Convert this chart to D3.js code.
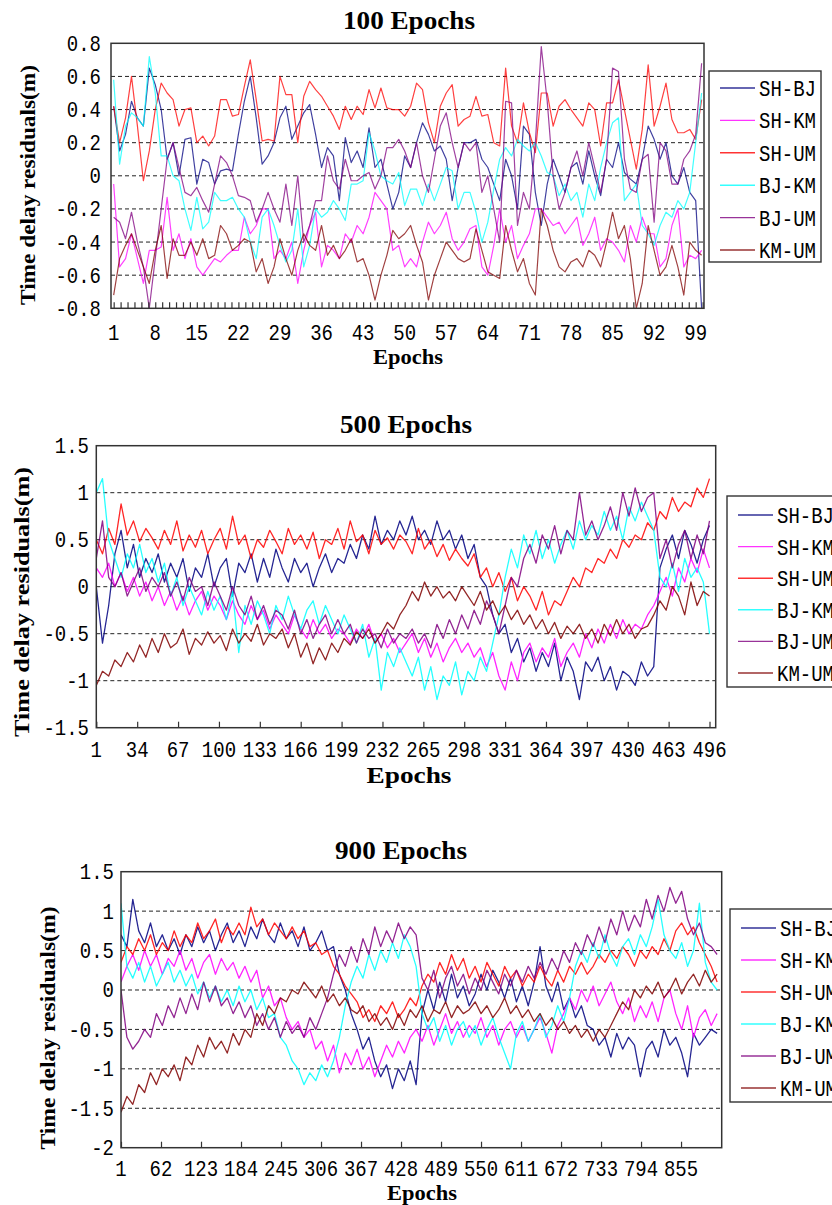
<!DOCTYPE html>
<html>
<head>
<meta charset="utf-8">
<script src="https://cdn.jsdelivr.net/npm/d3@7"></script>
<style>
body { margin: 0; background: #fff; }
</style>
</head>
<body>
<script>
var seriesNames = ["SH-BJ", "SH-KM", "SH-UM", "BJ-KM", "BJ-UM", "KM-UM"];
var seriesColors = ["#000080", "#ff00ff", "#ff0000", "#00ffff", "#800080", "#800000"];

// ---- 100 epochs ----
var epochs100 = d3.range(1, 101);
var shbj100 = [0.42,0.15,0.25,0.45,0.35,0.3,0.65,0.55,0.4,0.1,
	0.2,0.0,0.22,0.23,-0.05,0.1,0.08,-0.05,0.03,0.04,
	0.03,0.25,0.45,0.6,0.35,0.07,0.12,0.2,0.35,0.42,
	0.22,0.3,0.38,0.43,0.25,0.05,0.17,0.12,-0.15,0.23,
	0.08,0.15,0.05,0.29,0.05,0.1,-0.05,-0.2,-0.1,0.12,
	0.05,0.2,0.32,0.25,0.15,0.18,0.1,-0.15,0.05,0.2,
	0.2,0.22,0.1,0.05,-0.05,-0.15,0.1,0.0,-0.2,0.3,
	0.25,-0.1,-0.3,-0.05,0.1,0.0,-0.1,0.05,0.08,-0.05,
	0.15,0.0,-0.12,0.1,0.05,0.2,0.02,-0.02,-0.05,0.1,
	0.3,0.22,0.1,0.2,0.0,-0.05,0.05,-0.1,-0.15,-0.8];
var shkm100 = [-0.05,-0.55,-0.5,-0.35,-0.5,-0.65,-0.45,-0.45,-0.43,-0.13,
	-0.45,-0.35,-0.5,-0.38,-0.55,-0.6,-0.55,-0.5,-0.52,-0.48,
	-0.45,-0.45,-0.25,-0.35,-0.3,-0.2,-0.2,-0.5,-0.45,-0.5,
	-0.4,-0.65,-0.45,-0.3,-0.22,-0.55,-0.42,-0.45,-0.5,-0.35,
	-0.4,-0.3,-0.35,-0.25,-0.1,-0.15,-0.2,-0.45,-0.42,-0.55,
	-0.5,-0.55,-0.4,-0.28,-0.35,-0.3,-0.22,-0.38,-0.45,-0.4,
	-0.32,-0.3,-0.55,-0.6,-0.42,-0.2,-0.4,-0.3,-0.5,-0.42,
	-0.35,-0.2,-0.2,-0.25,-0.3,-0.28,-0.35,-0.3,-0.25,-0.42,
	-0.35,-0.25,-0.45,-0.38,-0.4,-0.45,-0.52,-0.3,-0.4,-0.25,
	-0.35,-0.35,-0.55,-0.5,-0.3,-0.2,-0.55,-0.48,-0.5,-0.45];
var shum100 = [0.42,0.2,0.35,0.6,0.3,-0.03,0.15,0.4,0.56,0.5,
	0.46,0.3,0.4,0.41,0.2,0.24,0.18,0.24,0.46,0.46,
	0.36,0.37,0.54,0.7,0.46,0.21,0.22,0.21,0.6,0.49,
	0.49,0.2,0.48,0.57,0.52,0.48,0.42,0.36,0.28,0.42,
	0.34,0.42,0.37,0.52,0.41,0.53,0.41,0.4,0.4,0.36,
	0.42,0.56,0.52,0.32,0.2,0.42,0.5,0.55,0.3,0.34,
	0.36,0.48,0.36,0.37,0.2,0.18,0.65,0.3,0.2,0.44,
	0.26,0.14,0.5,0.5,0.3,0.42,0.46,0.4,0.35,0.3,
	0.44,0.4,0.18,0.44,0.44,0.58,0.4,0.22,0.04,0.28,
	0.67,0.3,0.42,0.56,0.34,0.26,0.26,0.28,0.22,0.46];
var bjkm100 = [0.58,0.07,0.3,0.38,0.35,0.3,0.72,0.5,0.12,0.12,
	0.0,-0.03,-0.2,-0.33,-0.13,-0.32,-0.28,-0.1,-0.15,-0.15,
	-0.13,-0.2,-0.25,-0.4,-0.5,-0.25,-0.2,-0.3,-0.42,-0.52,
	-0.45,-0.2,-0.55,-0.42,-0.2,-0.25,-0.22,-0.15,-0.2,-0.27,
	-0.05,-0.05,-0.03,0.26,0.15,0.0,-0.03,-0.05,0.02,-0.18,
	-0.08,-0.08,-0.18,-0.05,-0.15,-0.05,0.05,0.03,-0.2,-0.1,
	-0.1,-0.22,-0.4,-0.28,-0.08,0.1,0.17,0.12,0.22,0.18,
	0.15,0.2,0.12,0.02,0.0,-0.12,-0.05,-0.15,-0.1,-0.25,
	-0.05,-0.15,0.05,0.2,0.32,0.35,-0.15,-0.1,-0.05,-0.3,
	-0.35,-0.42,-0.3,-0.22,-0.25,-0.15,-0.2,-0.1,0.2,0.5];
var bjum100 = [-0.25,-0.28,-0.38,-0.22,-0.4,-0.55,-0.8,-0.5,-0.2,0.1,
	0.2,0.05,-0.1,-0.12,-0.07,-0.15,-0.22,-0.05,0.12,0.08,
	0.0,-0.12,-0.13,-0.15,-0.28,-0.2,-0.1,-0.2,-0.28,-0.05,
	-0.3,0.0,-0.4,-0.3,-0.15,-0.15,0.12,-0.03,-0.08,0.1,
	-0.03,-0.03,0.0,0.02,-0.08,0.0,0.17,0.17,0.22,0.15,
	0.05,0.2,0.0,-0.1,0.1,0.3,0.38,0.2,0.05,0.2,
	0.15,0.2,-0.1,0.0,-0.2,-0.4,0.45,0.44,-0.3,-0.1,
	-0.2,0.2,0.78,0.45,0.0,-0.2,-0.1,0.05,0.15,0.0,
	0.2,0.05,-0.1,0.1,0.65,0.63,0.1,-0.08,-0.1,0.1,
	0.13,-0.28,0.2,0.15,-0.05,-0.05,0.1,0.15,0.25,0.68];
var kmum100 = [-0.72,-0.5,-0.42,-0.35,-0.45,-0.55,-0.65,-0.45,-0.3,-0.62,
	-0.38,-0.48,-0.48,-0.4,-0.48,-0.38,-0.5,-0.48,-0.3,-0.35,
	-0.45,-0.42,-0.38,-0.4,-0.58,-0.5,-0.65,-0.55,-0.38,-0.5,
	-0.6,-0.45,-0.35,-0.42,-0.45,-0.3,-0.48,-0.42,-0.5,-0.45,
	-0.38,-0.52,-0.5,-0.6,-0.75,-0.6,-0.48,-0.33,-0.38,-0.35,
	-0.3,-0.42,-0.52,-0.75,-0.6,-0.5,-0.4,-0.45,-0.5,-0.52,
	-0.5,-0.32,-0.45,-0.58,-0.6,-0.62,-0.3,-0.45,-0.58,-0.5,
	-0.65,-0.72,-0.2,-0.3,-0.45,-0.55,-0.58,-0.52,-0.5,-0.55,
	-0.45,-0.48,-0.55,-0.4,-0.22,-0.38,-0.3,-0.5,-0.8,-0.65,
	-0.3,-0.45,-0.6,-0.55,-0.42,-0.55,-0.72,-0.4,-0.45,-0.48];
var xTicks100 = [1, 8, 15, 22, 29, 36, 43, 50, 57, 64, 71, 78, 85, 92, 99];
var yTicks100 = [0.8, 0.6, 0.4, 0.2, 0, -0.2, -0.4, -0.6, -0.8];
var yLabels100 = ["0.8", "0.6", "0.4", "0.2", "0", "-0.2", "-0.4", "-0.6", "-0.8"];

// ---- 500 epochs (read every 5th epoch) ----
var epochs500 = d3.range(1, 497, 5);
var shbj500 = [0.0,-0.6,-0.2,0.35,0.6,0.2,0.45,0.1,0.3,0.15,
	0.35,0.05,0.25,0.1,0.3,-0.05,0.2,0.1,0.35,0.0,
	0.2,0.3,-0.1,0.25,0.15,0.35,0.05,0.3,0.1,0.4,
	0.2,0.05,0.3,0.15,0.25,0.0,0.2,0.35,0.15,0.3,
	0.25,0.45,0.3,0.55,0.4,0.75,0.45,0.6,0.5,0.7,
	0.55,0.75,0.5,0.6,0.45,0.7,0.5,0.6,0.4,0.55,
	0.3,0.45,0.1,0.0,-0.3,-0.5,-0.4,-0.7,-0.55,-0.8,
	-0.65,-0.9,-0.7,-0.85,-0.6,-1.0,-0.75,-0.9,-1.2,-0.8,
	-0.9,-0.75,-1.0,-0.85,-1.1,-0.9,-0.95,-1.05,-0.8,-0.95,
	-0.85,0.2,0.4,0.55,0.3,0.6,0.45,0.25,0.5,0.65];
var shkm500 = [0.2,0.1,0.25,0.0,0.15,-0.05,0.1,-0.1,0.05,-0.15,
	0.0,-0.2,-0.05,-0.25,-0.1,-0.3,-0.15,-0.05,-0.25,-0.1,
	-0.2,-0.35,-0.15,-0.3,-0.4,-0.2,-0.35,-0.25,-0.45,-0.3,
	-0.4,-0.5,-0.3,-0.45,-0.55,-0.35,-0.5,-0.4,-0.55,-0.45,
	-0.5,-0.6,-0.45,-0.55,-0.4,-0.6,-0.5,-0.65,-0.55,-0.7,
	-0.6,-0.5,-0.7,-0.55,-0.75,-0.6,-0.8,-0.65,-0.55,-0.7,
	-0.6,-0.75,-0.65,-0.85,-0.7,-0.95,-1.1,-0.8,-1.0,-0.7,
	-0.6,-0.8,-0.65,-0.75,-0.55,-0.85,-0.7,-0.6,-0.75,-0.5,
	-0.65,-0.45,-0.6,-0.4,-0.55,-0.35,-0.5,-0.4,-0.45,-0.3,
	-0.2,-0.05,0.1,-0.1,0.2,0.05,0.3,0.15,0.4,0.2];
var shum500 = [0.5,0.35,0.62,0.45,0.88,0.55,0.7,0.48,0.62,0.52,
	0.4,0.6,0.45,0.7,0.38,0.55,0.42,0.6,0.35,0.5,
	0.62,0.4,0.75,0.45,0.55,0.3,0.5,0.42,0.6,0.48,
	0.35,0.62,0.45,0.55,0.4,0.58,0.3,0.5,0.45,0.62,
	0.4,0.7,0.48,0.55,0.35,0.6,0.45,0.52,0.4,0.55,
	0.48,0.35,0.62,0.4,0.5,0.32,0.45,0.28,0.4,0.3,
	0.22,0.35,0.1,0.2,0.0,0.15,-0.05,0.1,-0.15,0.0,
	-0.1,-0.25,-0.05,-0.3,-0.15,-0.2,-0.05,0.1,0.0,0.2,
	0.15,0.3,0.25,0.4,0.3,0.5,0.42,0.55,0.5,0.68,
	0.6,0.8,0.72,0.95,0.8,0.9,0.85,1.05,0.95,1.15];
var bjkm500 = [1.0,1.15,0.5,0.3,0.1,0.35,0.2,0.45,0.15,0.3,
	0.05,0.25,-0.1,0.1,-0.2,0.0,-0.15,-0.3,-0.05,-0.25,
	-0.1,-0.35,-0.05,-0.7,-0.2,-0.4,-0.15,-0.3,-0.5,-0.2,
	-0.35,-0.1,-0.3,-0.45,-0.25,-0.15,-0.4,-0.2,-0.35,-0.5,
	-0.3,-0.45,-0.6,-0.4,-0.75,-0.55,-1.1,-0.7,-0.85,-0.65,
	-0.8,-0.95,-0.75,-1.1,-0.85,-1.2,-0.95,-1.05,-0.8,-1.15,
	-0.9,-1.0,-0.75,-0.9,-0.6,-0.3,0.1,0.4,0.2,0.55,
	0.35,0.6,0.3,0.5,0.25,0.45,0.6,0.4,0.7,0.5,
	0.65,0.55,0.8,0.6,0.75,0.5,0.85,0.7,0.9,0.75,
	0.6,0.1,0.0,0.25,-0.05,0.3,0.1,0.2,0.05,-0.5];
var bjum500 = [0.3,0.7,0.1,0.0,0.15,-0.1,0.05,0.2,-0.05,0.1,
	0.0,0.15,-0.1,0.05,-0.15,0.1,-0.05,0.0,-0.2,0.05,
	-0.1,-0.25,0.0,-0.2,-0.3,-0.1,-0.35,-0.2,-0.4,-0.25,
	-0.3,-0.45,-0.25,-0.5,-0.35,-0.55,-0.4,-0.3,-0.5,-0.35,
	-0.5,-0.4,-0.6,-0.45,-0.55,-0.5,-0.65,-0.45,-0.6,-0.5,
	-0.55,-0.45,-0.6,-0.5,-0.65,-0.4,-0.55,-0.35,-0.5,-0.3,
	-0.45,-0.25,-0.4,-0.15,-0.3,-0.5,-0.2,0.1,0.0,0.3,
	0.45,0.25,0.55,0.4,0.65,0.35,0.6,0.5,1.0,0.55,
	0.7,0.5,0.65,0.85,0.6,1.0,0.75,1.05,0.8,0.95,
	1.0,0.3,0.5,0.2,0.45,0.6,0.3,0.55,0.35,0.7];
var kmum500 = [-1.05,-0.9,-0.95,-0.78,-0.85,-0.7,-0.8,-0.62,-0.75,-0.55,
	-0.7,-0.5,-0.65,-0.6,-0.45,-0.72,-0.55,-0.62,-0.48,-0.6,
	-0.52,-0.68,-0.45,-0.6,-0.5,-0.58,-0.4,-0.62,-0.5,-0.55,
	-0.45,-0.65,-0.5,-0.75,-0.6,-0.82,-0.65,-0.78,-0.6,-0.7,
	-0.55,-0.62,-0.48,-0.55,-0.45,-0.6,-0.5,-0.38,-0.45,-0.3,
	-0.2,-0.05,-0.15,0.05,-0.1,0.0,-0.12,-0.05,-0.15,0.0,
	-0.1,-0.2,-0.05,-0.25,-0.15,-0.3,-0.2,-0.35,-0.25,-0.4,
	-0.3,-0.45,-0.35,-0.5,-0.38,-0.55,-0.42,-0.5,-0.4,-0.55,
	-0.45,-0.6,-0.4,-0.52,-0.35,-0.5,-0.4,-0.55,-0.45,-0.42,
	-0.3,-0.15,-0.25,0.0,-0.1,-0.3,0.05,-0.2,-0.05,-0.1];
var xTicks500 = [1, 34, 67, 100, 133, 166, 199, 232, 265, 298, 331, 364, 397, 430, 463, 496];
var yTicks500 = [1.5, 1, 0.5, 0, -0.5, -1, -1.5];
var yLabels500 = ["1.5", "1", "0.5", "0", "-0.5", "-1", "-1.5"];

// ---- 900 epochs (read every 9th epoch) ----
var epochs900 = d3.range(1, 911, 9);
var shbj900 = [0.7,0.55,1.15,0.75,0.6,0.85,0.55,0.7,0.5,0.65,
	0.45,0.7,0.55,0.8,0.6,0.75,0.5,0.7,0.85,0.6,
	0.75,0.55,0.8,0.65,0.9,0.7,0.6,0.85,0.65,0.75,
	0.55,0.8,0.5,0.6,0.75,0.5,0.55,0.2,0.0,-0.3,
	-0.5,-0.75,-0.6,-0.9,-1.1,-0.95,-1.25,-1.0,-1.15,-0.9,
	-1.2,-0.3,0.0,-0.25,0.1,-0.15,0.2,-0.1,0.05,-0.2,
	-0.05,0.2,0.0,0.25,0.1,-0.1,0.15,-0.15,0.05,-0.2,
	0.1,0.55,0.05,-0.15,0.1,-0.25,-0.1,-0.35,-0.2,-0.45,
	-0.5,-0.7,-0.6,-0.85,-0.55,-0.75,-0.6,-0.7,-1.1,-0.75,
	-0.65,-0.85,-0.5,-0.7,-0.6,-0.8,-1.1,-0.55,-0.7,-0.6,
	-0.5,-0.55];
var shkm900 = [0.1,0.3,0.45,0.25,0.5,0.3,0.45,0.2,0.4,0.3,
	0.5,0.25,0.4,0.15,0.35,0.45,0.2,0.4,0.25,0.35,
	0.15,0.3,0.1,0.25,-0.1,0.05,-0.2,-0.1,-0.35,-0.5,
	-0.4,-0.6,-0.5,-0.75,-0.65,-0.9,-0.7,-1.05,-0.8,-0.95,
	-0.75,-1.0,-0.85,-1.1,-0.9,-0.7,-0.85,-0.65,-0.8,-0.6,
	-0.5,-0.65,-0.45,-0.7,-0.5,-0.3,-0.55,-0.4,-0.6,-0.45,
	-0.55,-0.35,-0.6,-0.45,-0.7,-0.5,-0.4,-0.6,-0.45,-0.65,
	-0.5,-0.35,-0.55,-0.8,-0.45,-0.3,-0.1,-0.25,0.0,-0.15,
	0.05,-0.2,-0.05,0.1,-0.15,-0.3,-0.1,-0.4,-0.2,-0.35,
	-0.15,-0.4,-0.1,0.0,-0.3,-0.5,-0.2,-0.6,-0.35,-0.25,
	-0.45,-0.3];
var shum900 = [0.35,0.55,0.45,0.65,0.5,0.7,0.45,0.6,0.5,0.75,
	0.55,0.7,0.6,0.85,0.65,0.75,0.9,0.6,0.8,0.7,
	0.85,0.7,1.05,0.8,0.9,0.7,0.85,0.75,0.65,0.8,
	0.65,0.75,0.55,0.6,0.45,0.5,0.3,0.2,0.05,-0.05,
	-0.15,-0.35,-0.25,-0.4,-0.2,-0.3,-0.15,-0.35,-0.25,-0.1,
	-0.2,0.05,0.2,0.1,0.35,0.2,0.45,0.25,0.4,0.15,
	0.3,0.1,0.35,0.2,0.05,0.3,0.15,0.25,0.05,0.2,
	0.1,0.3,0.15,0.05,0.25,0.1,0.3,0.2,0.35,0.2,
	0.3,0.45,0.35,0.5,0.4,0.55,0.45,0.3,0.5,0.4,
	0.55,0.45,0.65,0.5,0.75,0.85,0.7,0.8,0.6,0.45,
	0.3,0.1];
var bjkm900 = [1.1,0.3,0.15,0.35,0.1,0.3,0.05,0.2,0.35,0.1,
	0.25,0.05,0.2,-0.05,0.1,-0.1,0.05,-0.15,0.0,-0.2,
	0.05,-0.15,0.0,-0.25,-0.1,-0.35,-0.3,-0.6,-0.7,-0.9,
	-1.0,-1.2,-1.05,-1.15,-0.95,-1.1,-0.9,-0.6,-0.2,0.1,
	0.3,0.15,0.45,0.25,0.5,0.35,0.6,0.4,0.7,0.55,
	0.3,-0.3,-0.5,-0.35,-0.65,-0.45,-0.7,-0.5,-0.4,-0.6,
	-0.45,-0.7,-0.5,-0.35,-0.6,-0.8,-1.0,-0.55,-0.4,-0.65,
	-0.5,-0.3,-0.6,-0.45,-0.2,-0.4,-0.1,0.3,0.5,0.35,
	0.6,0.4,0.7,0.45,0.3,0.55,0.65,0.45,0.7,0.55,
	0.8,1.15,0.7,0.5,0.4,0.6,0.3,0.5,1.1,0.35,
	0.1,0.0];
var bjum900 = [0.0,-0.6,-0.75,-0.65,-0.5,-0.6,-0.3,-0.45,-0.2,-0.35,
	-0.1,-0.3,-0.05,-0.25,0.1,-0.15,0.05,-0.2,-0.1,-0.3,
	-0.15,-0.35,-0.2,-0.45,-0.3,-0.5,-0.35,-0.6,-0.4,-0.55,
	-0.45,-0.6,-0.35,-0.5,-0.3,-0.1,0.2,0.45,0.3,0.55,
	0.35,0.65,0.45,0.8,0.55,0.75,0.6,0.85,0.65,0.8,
	0.7,0.15,0.0,0.25,-0.1,0.15,0.3,0.05,0.2,-0.05,
	0.15,0.0,0.25,0.1,-0.05,0.2,0.05,0.25,0.1,0.3,
	0.15,0.35,0.2,0.4,0.25,0.5,0.35,0.6,0.45,0.7,
	0.55,0.8,0.6,0.9,0.7,1.0,0.75,0.95,0.8,1.15,
	0.9,1.2,1.0,1.3,1.1,1.25,0.9,0.7,0.85,0.6,
	0.55,0.45];
var kmum900 = [-1.55,-1.35,-1.45,-1.2,-1.3,-1.05,-1.2,-1.0,-1.1,-0.95,
	-1.15,-0.85,-0.95,-0.7,-0.85,-0.6,-0.75,-0.65,-0.8,-0.55,
	-0.7,-0.5,-0.6,-0.3,-0.45,-0.2,-0.3,-0.1,-0.15,0.0,
	-0.05,0.1,0.0,-0.1,0.05,-0.15,-0.05,-0.2,-0.1,-0.25,
	-0.3,-0.2,-0.4,-0.3,-0.45,-0.35,-0.5,-0.3,-0.45,-0.25,
	-0.35,-0.2,-0.4,-0.25,-0.3,-0.15,-0.35,-0.2,-0.3,-0.25,
	-0.15,-0.3,-0.2,-0.35,-0.25,-0.1,-0.3,-0.2,-0.35,-0.25,
	-0.4,-0.3,-0.45,-0.35,-0.5,-0.4,-0.55,-0.45,-0.6,-0.5,
	-0.65,-0.5,-0.6,-0.45,-0.3,-0.15,-0.25,0.0,-0.1,0.05,
	-0.05,0.1,-0.1,0.0,0.15,-0.05,0.1,0.2,0.05,0.25,
	0.1,0.2];
var xTicks900 = [1, 62, 123, 184, 245, 306, 367, 428, 489, 550, 611, 672, 733, 794, 855];
var yTicks900 = [1.5, 1, 0.5, 0, -0.5, -1, -1.5, -2];
var yLabels900 = ["1.5", "1", "0.5", "0", "-0.5", "-1", "-1.5", "-2"];

var svg = d3.select("body").append("svg")
	.attr("width", 832)
	.attr("height", 1205)
	.style("display", "block");

var monoFont = "'Liberation Mono', 'DejaVu Sans Mono', monospace";
var serifFont = "'Liberation Serif', 'DejaVu Serif', serif";

function drawPanel(p) {
	var g = svg.append("g");
	var x = d3.scaleLinear().domain(p.xDomain).range([p.left, p.right]);
	var y = d3.scaleLinear().domain(p.yDomain).range([p.bottom, p.top]);

	g.append("clipPath").attr("id", p.id)
		.append("rect")
		.attr("x", p.left).attr("y", p.top)
		.attr("width", p.right - p.left).attr("height", p.bottom - p.top);

	// dashed grid
	g.selectAll(".grid").data(p.yTicks.slice(1, -1)).enter().append("line")
		.attr("x1", p.left).attr("x2", p.right)
		.attr("y1", function(d) { return y(d); })
		.attr("y2", function(d) { return y(d); })
		.attr("stroke", "#222")
		.attr("stroke-width", 1)
		.attr("stroke-dasharray", "4,3");

	// series
	var line = d3.line()
		.x(function(d, i) { return x(p.epochs[i]); })
		.y(function(d) { return y(d); });
	g.append("g").attr("clip-path", "url(#" + p.id + ")")
		.selectAll("path").data(p.series).enter().append("path")
		.attr("d", function(d) { return line(d); })
		.attr("fill", "none")
		.attr("stroke", function(d, i) { return seriesColors[i]; })
		.attr("stroke-width", p.lineWidth)
		.attr("stroke-opacity", p.lineOpacity)
		.attr("stroke-linejoin", "round");

	// tick marks on the bottom axis
	var ax = g.append("g")
		.attr("transform", "translate(0," + p.bottom + ")")
		.call(d3.axisBottom(x).tickValues(p.tickMarks).tickSize(-6).tickFormat(""));
	ax.select(".domain").remove();
	ax.selectAll("line").attr("stroke", "#333").attr("stroke-width", 1.2);

	// frame
	g.append("rect")
		.attr("x", p.left).attr("y", p.top)
		.attr("width", p.right - p.left).attr("height", p.bottom - p.top)
		.attr("fill", "none")
		.attr("stroke", "#333")
		.attr("stroke-width", 1.5);

	// tick labels (tall, narrow glyphs)
	g.selectAll(".xl").data(p.xTicks).enter().append("text")
		.attr("transform", function(d) { return "translate(" + x(d) + "," + p.xLabelY + ") scale(1,1.2)"; })
		.attr("text-anchor", "middle")
		.style("font-family", monoFont)
		.style("font-size", p.tickFont + "px")
		.text(function(d) { return d; });

	g.selectAll(".yl").data(p.yTicks).enter().append("text")
		.attr("transform", function(d) { return "translate(" + p.yLabelX + "," + (y(d) + 7.5) + ") scale(1,1.2)"; })
		.attr("text-anchor", "end")
		.style("font-family", monoFont)
		.style("font-size", p.tickFont + "px")
		.text(function(d, i) { return p.yLabels[i]; });

	// titles
	g.append("text")
		.attr("x", p.titleX).attr("y", p.titleY)
		.attr("text-anchor", "middle")
		.attr("textLength", p.titleLen)
		.attr("lengthAdjust", "spacingAndGlyphs")
		.style("font-family", serifFont)
		.style("font-weight", "bold")
		.style("font-size", "25px")
		.text(p.title);

	g.append("text")
		.attr("x", p.xTitleX).attr("y", p.xTitleY)
		.attr("text-anchor", "middle")
		.attr("textLength", p.xTitleLen)
		.attr("lengthAdjust", "spacingAndGlyphs")
		.style("font-family", serifFont)
		.style("font-weight", "bold")
		.style("font-size", p.xTitleFont + "px")
		.text("Epochs");

	g.append("text")
		.attr("transform", "translate(" + p.yTitleX + "," + p.yTitleY + ") rotate(-90)")
		.attr("text-anchor", "middle")
		.attr("textLength", p.yTitleLen)
		.attr("lengthAdjust", "spacingAndGlyphs")
		.style("font-family", serifFont)
		.style("font-weight", "bold")
		.style("font-size", "21px")
		.text("Time delay residuals(m)");

	// legend
	var lg = g.append("g");
	lg.append("rect")
		.attr("x", p.legend.x).attr("y", p.legend.y)
		.attr("width", p.legend.w).attr("height", p.legend.h)
		.attr("fill", "#fff")
		.attr("stroke", "#333")
		.attr("stroke-width", 1.4);
	var rows = lg.selectAll(".row").data(seriesNames).enter().append("g")
		.attr("transform", function(d, i) {
			return "translate(" + p.legend.x + "," + (p.legend.y + p.legend.first + i * p.legend.step) + ")";
		});
	rows.append("line")
		.attr("x1", 11).attr("x2", 46)
		.attr("y1", 0).attr("y2", 0)
		.attr("stroke", function(d, i) { return seriesColors[i]; })
		.attr("stroke-width", 1.4)
		.attr("stroke-opacity", 0.8);
	rows.append("text")
		.attr("x", 50).attr("y", 0)
		.attr("transform", "scale(1,1.2)")
		.attr("dy", "0.35em")
		.style("font-family", monoFont)
		.style("font-size", "19px")
		.text(function(d) { return d; });
}

drawPanel({
	id: "clip100",
	epochs: epochs100,
	series: [shbj100, shkm100, shum100, bjkm100, bjum100, kmum100],
	xDomain: [0.55, 100.4], yDomain: [-0.8, 0.8],
	left: 111, right: 704, top: 43.3, bottom: 308.3,
	yTicks: yTicks100, yLabels: yLabels100, xTicks: xTicks100,
	tickMarks: d3.range(1, 100.5, 7 / 6),
	lineWidth: 1.2, lineOpacity: 0.75,
	tickFont: 19, xLabelY: 340, yLabelX: 101,
	title: "100 Epochs", titleX: 409, titleY: 29, titleLen: 132,
	xTitleX: 408, xTitleY: 364, xTitleLen: 70, xTitleFont: 21,
	yTitleX: 35, yTitleY: 185, yTitleLen: 240,
	legend: { x: 709, y: 71, w: 112, h: 191, first: 17, step: 32.4 }
});

drawPanel({
	id: "clip500",
	epochs: epochs500,
	series: [shbj500, shkm500, shum500, bjkm500, bjum500, kmum500],
	xDomain: [1, 501], yDomain: [-1.5, 1.5],
	left: 96.3, right: 715.7, top: 445.7, bottom: 727.7,
	yTicks: yTicks500, yLabels: yLabels500, xTicks: xTicks500,
	tickMarks: xTicks500,
	lineWidth: 1.3, lineOpacity: 0.85,
	tickFont: 19, xLabelY: 757, yLabelX: 89,
	title: "500 Epochs", titleX: 406, titleY: 433, titleLen: 132,
	xTitleX: 409, xTitleY: 783, xTitleLen: 85, xTitleFont: 24,
	yTitleX: 29, yTitleY: 602, yTitleLen: 270,
	legend: { x: 727, y: 496, w: 115, h: 191, first: 19, step: 31.6 }
});

drawPanel({
	id: "clip900",
	epochs: epochs900,
	series: [shbj900, shkm900, shum900, bjkm900, bjum900, kmum900],
	xDomain: [1, 917], yDomain: [-2, 1.5],
	left: 121, right: 721.7, top: 871.7, bottom: 1147.7,
	yTicks: yTicks900, yLabels: yLabels900, xTicks: xTicks900,
	tickMarks: xTicks900,
	lineWidth: 1.3, lineOpacity: 0.85,
	tickFont: 19, xLabelY: 1176, yLabelX: 114,
	title: "900 Epochs", titleX: 401, titleY: 859, titleLen: 132,
	xTitleX: 422, xTitleY: 1200, xTitleLen: 70, xTitleFont: 20,
	yTitleX: 55, yTitleY: 1028, yTitleLen: 243,
	legend: { x: 730, y: 909, w: 115, h: 193, first: 19, step: 32 }
});
</script>
</body>
</html>
